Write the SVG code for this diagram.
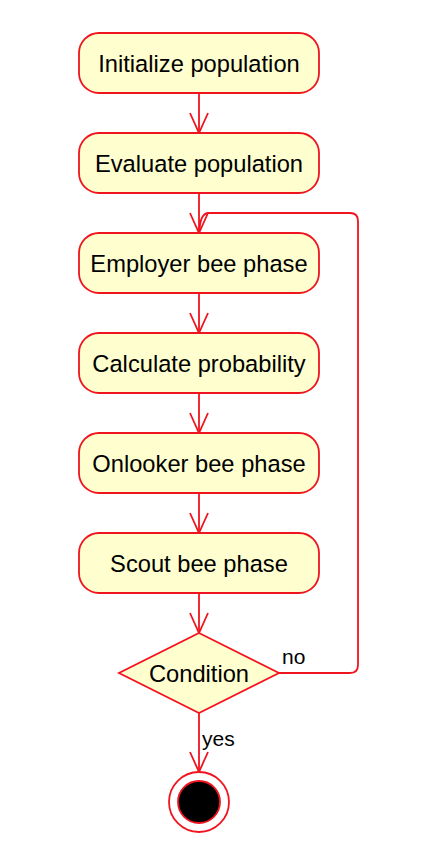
<svg xmlns="http://www.w3.org/2000/svg" width="432" height="866" viewBox="0 0 432 866">
<style>
.act{fill:#FEFECE;stroke:#F0141E;stroke-width:1.8}
.t{font-family:"Liberation Sans",Arial,sans-serif;font-size:23.7px;fill:#000;text-anchor:middle}
.lbl{font-family:"Liberation Sans",Arial,sans-serif;font-size:21px;fill:#000}
.c{fill:none;stroke:#F0141E;stroke-width:1.8}
</style>
<defs>
<marker id="arr" markerUnits="userSpaceOnUse" markerWidth="24" markerHeight="22" refX="21" refY="10" orient="auto" viewBox="0 0 24 22">
<path d="M1,1 L21,10 L1,19" fill="none" stroke="#F0141E" stroke-width="1.8"/>
</marker>
</defs>
<rect width="432" height="866" fill="#fff"/>
<g id="connectors">
<path class="c" d="M199,93 V133" marker-end="url(#arr)"/>
<path class="c" d="M199,193 V233" marker-end="url(#arr)"/>
<path class="c" d="M199,293 V333" marker-end="url(#arr)"/>
<path class="c" d="M199,393 V433" marker-end="url(#arr)"/>
<path class="c" d="M199,493 V533" marker-end="url(#arr)"/>
<path class="c" d="M199,593 V633" marker-end="url(#arr)"/>
<path class="c" d="M199,713 V772" marker-end="url(#arr)"/>
<path class="c" d="M279,673 H350 Q358,673 358,665 V221 Q358,213 350,213 H208 Q200,214 199.5,231"/>
<text class="lbl" x="282" y="664">no</text>
<text class="lbl" x="202" y="746">yes</text>
</g>
<g id="n1"><rect class="act" x="79" y="33" width="240" height="60" rx="20"/><text class="t" x="199" y="72">Initialize population</text></g>
<g id="n2"><rect class="act" x="79" y="133" width="240" height="60" rx="20"/><text class="t" x="199" y="172">Evaluate population</text></g>
<g id="n3"><rect class="act" x="79" y="233" width="240" height="60" rx="20"/><text class="t" x="199" y="272">Employer bee phase</text></g>
<g id="n4"><rect class="act" x="79" y="333" width="240" height="60" rx="20"/><text class="t" x="199" y="372">Calculate probability</text></g>
<g id="n5"><rect class="act" x="79" y="433" width="240" height="60" rx="20"/><text class="t" x="199" y="472">Onlooker bee phase</text></g>
<g id="n6"><rect class="act" x="79" y="533" width="240" height="60" rx="20"/><text class="t" x="199" y="572">Scout bee phase</text></g>
<g id="cond"><polygon class="act" points="199,633 279,673 199,713 119,673"/><text class="t" x="199" y="681.5">Condition</text></g>
<g id="end"><circle cx="199" cy="802" r="30" fill="#fff" stroke="#F0141E" stroke-width="1.8"/><circle cx="199" cy="802" r="21" fill="#000" stroke="#F0141E" stroke-width="1.8"/></g>
</svg>
